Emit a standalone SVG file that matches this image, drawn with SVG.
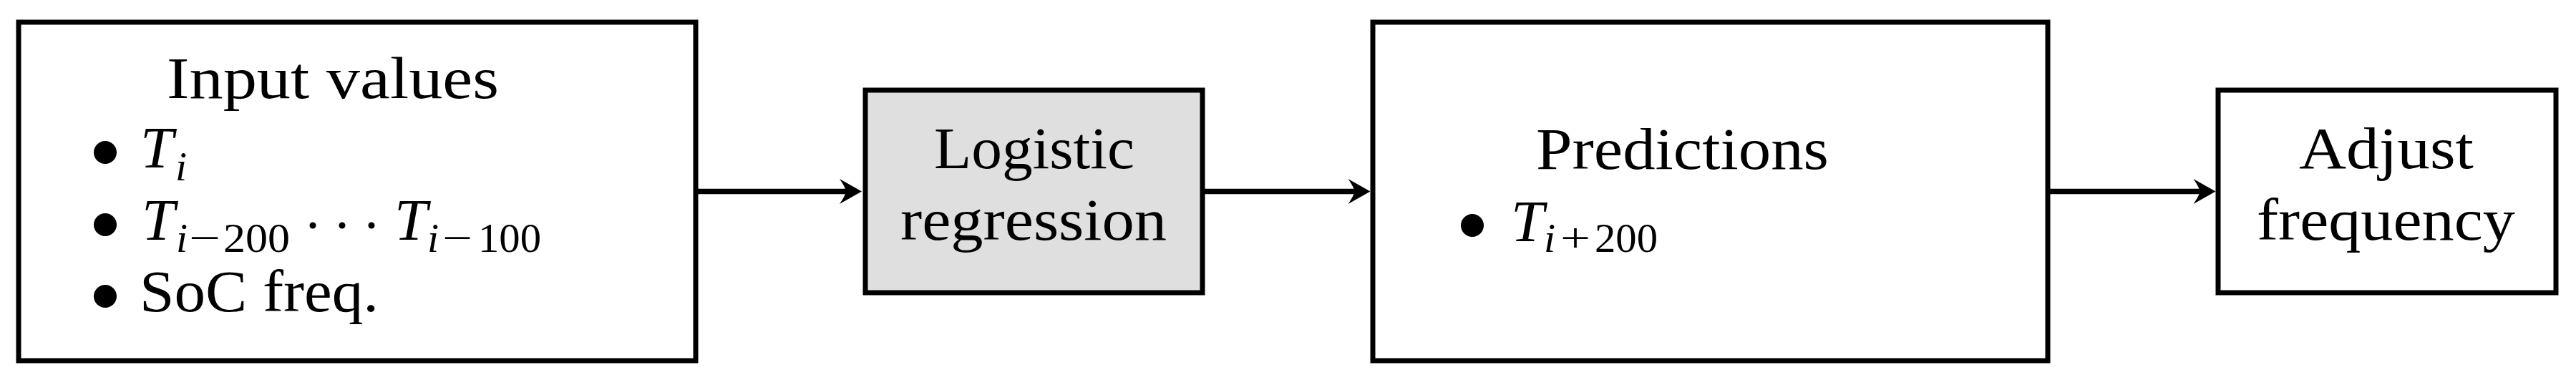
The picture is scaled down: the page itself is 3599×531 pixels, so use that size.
<svg xmlns="http://www.w3.org/2000/svg" width="3599" height="531" viewBox="0 0 3599 531">
<style>
.box{fill:#ffffff;stroke:#000000;stroke-width:7}
.gray{fill:#dfdfdf}
.t{font-family:"Liberation Serif","Times New Roman",serif;font-size:83px;fill:#000000}
.m{font-style:italic}
.s{font-size:58px}
.conn{stroke:#000000;stroke-width:7.5;fill:none}
.dot{fill:#000000}
</style>
<defs>
<marker id="arr" viewBox="-34 -20 36 40" markerWidth="36" markerHeight="40" refX="-19" refY="0" orient="auto" markerUnits="userSpaceOnUse" overflow="visible">
<path d="M0 0 L-31 -17.5 Q-23 -6 -22 0 Q-23 6 -31 17.5 Z" fill="#000000"/>
</marker>
</defs>
<g id="input">
<rect class="box" x="26" y="31" width="946" height="473"/>
<text class="t" x="233" y="137" textLength="464" lengthAdjust="spacingAndGlyphs">Input values</text>
<circle class="dot" cx="147" cy="213" r="16"/>
<text class="t m" x="196" y="234">T</text>
<text class="t m s" x="245" y="252">i</text>
<circle class="dot" cx="147" cy="314" r="16"/>
<text class="t m" x="198" y="335">T</text>
<text class="t m s" x="246" y="352">i</text>
<text class="t s" x="264" y="352" textLength="44" lengthAdjust="spacingAndGlyphs">−</text>
<text class="t s" x="312" y="352" textLength="93" lengthAdjust="spacingAndGlyphs">200</text>
<circle class="dot" cx="437" cy="315" r="4.5"/>
<circle class="dot" cx="478" cy="315" r="4.5"/>
<circle class="dot" cx="519" cy="315" r="4.5"/>
<text class="t m" x="551" y="335">T</text>
<text class="t m s" x="597" y="352">i</text>
<text class="t s" x="618" y="352" textLength="42" lengthAdjust="spacingAndGlyphs">−</text>
<text class="t s" x="668" y="352" textLength="88" lengthAdjust="spacingAndGlyphs">100</text>
<circle class="dot" cx="147" cy="414" r="16"/>
<text class="t" x="195" y="435" textLength="334" lengthAdjust="spacingAndGlyphs">SoC freq.</text>
</g>
<g id="logistic">
<rect class="box gray" x="1209" y="126" width="471" height="283"/>
<text class="t" x="1305" y="235" textLength="280" lengthAdjust="spacingAndGlyphs">Logistic</text>
<text class="t" x="1258" y="335" textLength="372" lengthAdjust="spacingAndGlyphs">regression</text>
</g>
<g id="predictions">
<rect class="box" x="1918" y="31" width="943" height="473"/>
<text class="t" x="2146" y="236" textLength="409" lengthAdjust="spacingAndGlyphs">Predictions</text>
<circle class="dot" cx="2057" cy="315" r="16"/>
<text class="t m" x="2111" y="337">T</text>
<text class="t m s" x="2157" y="352">i</text>
<text class="t s" x="2180" y="352" textLength="42" lengthAdjust="spacingAndGlyphs">+</text>
<text class="t s" x="2228" y="352" textLength="88" lengthAdjust="spacingAndGlyphs">200</text>
</g>
<g id="adjust">
<rect class="box" x="3099" y="126" width="472" height="283"/>
<text class="t" x="3212" y="235" textLength="244" lengthAdjust="spacingAndGlyphs">Adjust</text>
<text class="t" x="3153" y="335" textLength="361" lengthAdjust="spacingAndGlyphs">frequency</text>
</g>
<g id="connectors">
<path class="conn" d="M972 267.5 H1185" marker-end="url(#arr)"/>
<path class="conn" d="M1680 267.5 H1895.5" marker-end="url(#arr)"/>
<path class="conn" d="M2861 267.5 H3076.5" marker-end="url(#arr)"/>
</g>
</svg>
